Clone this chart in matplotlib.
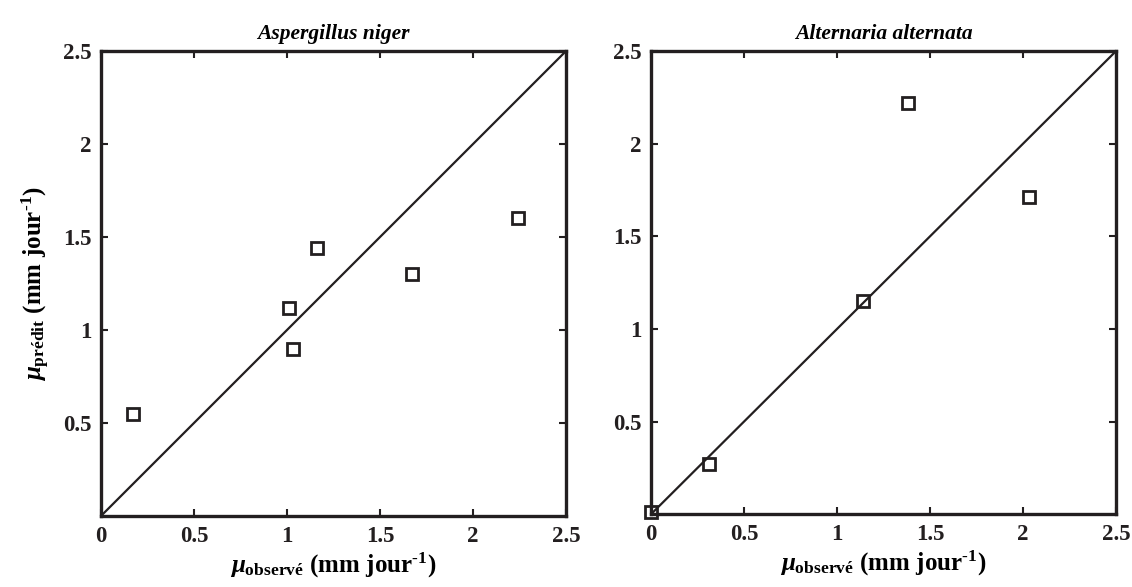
import matplotlib
matplotlib.use('Agg')
import matplotlib.pyplot as plt

# police type Times (Liberation Serif) en gras, comme la figure d'origine
plt.rcParams['font.family'] = 'Liberation Serif'
plt.rcParams['font.weight'] = 'bold'
plt.rcParams['mathtext.fontset'] = 'custom'
plt.rcParams['mathtext.rm'] = 'Liberation Serif:bold'
plt.rcParams['mathtext.it'] = 'Liberation Serif:bold:italic'
plt.rcParams['mathtext.bf'] = 'Liberation Serif:bold'

# Données
titres = ['Aspergillus niger', 'Alternaria alternata']

obs_niger = [0.17, 1.01, 1.03, 1.16, 1.67, 2.24]
pred_niger = [0.55, 1.12, 0.90, 1.44, 1.30, 1.60]

obs_alt = [0.00, 0.31, 1.14, 1.38, 2.03]
pred_alt = [0.01, 0.27, 1.15, 2.22, 1.71]

ligne_11 = [0, 2.5]
xticks = [0, 0.5, 1, 1.5, 2, 2.5]
yticks = [0.5, 1, 1.5, 2, 2.5]

fig = plt.figure(figsize=(11.32, 5.87), dpi=100)
ax1 = fig.add_axes([0.0892, 0.121, 0.4108, 0.792])
ax2 = fig.add_axes([0.5751, 0.124, 0.4108, 0.789])

series = [(ax1, obs_niger, pred_niger), (ax2, obs_alt, pred_alt)]

for i, (ax, x, y) in enumerate(series):
    ax.plot(ligne_11, ligne_11, color='#231f20', linewidth=1.6)
    ax.plot(x, y, linestyle='none', marker='s', markersize=9,
            markerfacecolor='none', markeredgecolor='#231f20',
            markeredgewidth=2.0, clip_on=False)
    ax.set_xlim(0, 2.5)
    ax.set_ylim(0, 2.5)
    ax.set_xticks(xticks)
    ax.set_xticklabels(['0', '0.5', '1', '1.5', '2', '2.5'])
    ax.set_yticks(yticks)
    ax.set_yticklabels(['0.5', '1', '1.5', '2', '2.5'])
    ax.tick_params(direction='in', length=5, width=1.5, labelsize=16.5,
                   top=True, right=True, pad=7, colors='#231f20')
    for s in ax.spines.values():
        s.set_linewidth(2.4)
        s.set_color('#231f20')
    ax.set_title(titres[i], fontsize=15.5, fontweight='bold', style='italic', pad=9)
    ax.set_xlabel('$\\mathit{\\mu}_{\\mathrm{observé}}\\ \\mathrm{(mm\\ jour^{\u2010 1})}$',
                  fontsize=18, labelpad=3)

ax1.set_ylabel('$\\mathit{\\mu}_{\\mathrm{prédit}}\\ \\mathrm{(mm\\ jour^{\u2010 1})}$',
               fontsize=18, labelpad=8)

plt.savefig('out.png', dpi=100)
